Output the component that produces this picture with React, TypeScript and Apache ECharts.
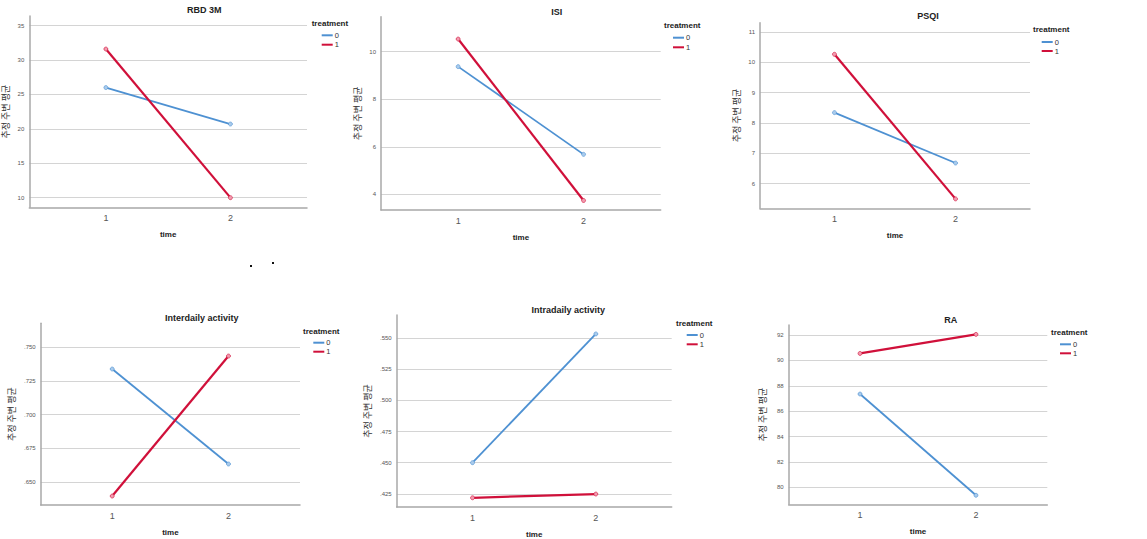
import React, { useEffect, useRef } from "react";
import * as echarts from "echarts";

// ---- Data ----
const timeCategories = [1, 2];
const panelTitles = ["RBD 3M", "ISI", "PSQI", "Interdaily activity", "Intradaily activity", "RA"];
const treatmentNames = ["0", "1"];

const rbd0 = [26.0, 20.7];
const rbd1 = [31.6, 10.0];
const isi0 = [9.37, 5.68];
const isi1 = [10.53, 3.74];
const psqi0 = [8.34, 6.68];
const psqi1 = [10.26, 5.5];
const inter0 = [0.7337, 0.6635];
const inter1 = [0.6398, 0.7433];
const intra0 = [0.45, 0.5534];
const intra1 = [0.4218, 0.4248];
const ra0 = [87.35, 79.37];
const ra1 = [90.55, 92.05];

const rbdTicks = [10, 15, 20, 25, 30, 35];
const isiTicks = [4, 6, 8, 10];
const psqiTicks = [6, 7, 8, 9, 10, 11];
const interTicks = [0.65, 0.675, 0.7, 0.725, 0.75];
const intraTicks = [0.425, 0.45, 0.475, 0.5, 0.525, 0.55];
const raTicks = [80, 82, 84, 86, 88, 90, 92];

const yAxisName = "추정 주변 평균";
const xAxisName = "time";
const legendTitle = "treatment";

const BLUE = "#4E91D2";
const RED = "#D0103A";
const BLUE_M = "#A9CBEC";
const RED_M = "#F29AAE";

type Panel = {
  title: string;
  s0: number[];
  s1: number[];
  ticks: number[];
  fmt: (v: number) => string;
  grid: { left: number; top: number; width: number; height: number };
  yMin: number;
  yMax: number;
  titlePos: [number, number];
  yNameGap: number;
  legendX: number;
  legendTitlePos: [number, number];
  legendY: [number, number];
};

const intFmt = (v: number) => String(Math.round(v));
const decFmt = (v: number) => "." + Math.round(v * 1000).toString().padStart(3, "0");

const panels: Panel[] = [
  {
    title: panelTitles[0], s0: rbd0, s1: rbd1, ticks: rbdTicks, fmt: intFmt,
    grid: { left: 29.3, top: 16, width: 277.7, height: 191.3 }, yMin: 8.6, yMax: 36.4,
    titlePos: [204.3, 10], yNameGap: 19, legendX: 321.7, legendTitlePos: [311.7, 23.3], legendY: [35.3, 44.7],
  },
  {
    title: panelTitles[1], s0: isi0, s1: isi1, ticks: isiTicks, fmt: intFmt,
    grid: { left: 381, top: 16.7, width: 279.7, height: 193.3 }, yMin: 3.34, yMax: 11.47,
    titlePos: [556.7, 12.3], yNameGap: 19, legendX: 673, legendTitlePos: [664, 25], legendY: [37.7, 47.3],
  },
  {
    title: panelTitles[2], s0: psqi0, s1: psqi1, ticks: psqiTicks, fmt: intFmt,
    grid: { left: 760, top: 22.7, width: 270, height: 185.6 }, yMin: 5.19, yMax: 11.3,
    titlePos: [928, 16], yNameGap: 19, legendX: 1041.7, legendTitlePos: [1033, 29.3], legendY: [42, 51],
  },
  {
    title: panelTitles[3], s0: inter0, s1: inter1, ticks: interTicks, fmt: decFmt,
    grid: { left: 40.7, top: 323.3, width: 259.3, height: 181.7 }, yMin: 0.6332, yMax: 0.7675,
    titlePos: [201.7, 318.3], yNameGap: 25, legendX: 313.3, legendTitlePos: [303, 331], legendY: [342.7, 351.7],
  },
  {
    title: panelTitles[4], s0: intra0, s1: intra1, ticks: intraTicks, fmt: decFmt,
    grid: { left: 396.7, top: 315, width: 275, height: 193.3 }, yMin: 0.4144, yMax: 0.5686,
    titlePos: [568.3, 310], yNameGap: 25, legendX: 686.7, legendTitlePos: [676, 323.3], legendY: [335, 344.3],
  },
  {
    title: panelTitles[5], s0: ra0, s1: ra1, ticks: raTicks, fmt: intFmt,
    grid: { left: 788.7, top: 325, width: 258.6, height: 179.3 }, yMin: 78.66, yMax: 92.79,
    titlePos: [950.7, 320], yNameGap: 22, legendX: 1060, legendTitlePos: [1051, 332.7], legendY: [344.3, 353.3],
  },
];

const FONT = "Liberation Sans, Arial, sans-serif";

function buildOption() {
  const grid: any[] = [];
  const xAxis: any[] = [];
  const yAxis: any[] = [];
  const series: any[] = [];
  const graphic: any[] = [];

  panels.forEach((p, i) => {
    grid.push({ ...p.grid, containLabel: false });
    xAxis.push({
      type: "value",
      gridIndex: i,
      min: 0.385,
      max: 2.615,
      name: xAxisName,
      nameLocation: "middle",
      nameGap: 23,
      nameTextStyle: { fontFamily: FONT, fontSize: 8, fontWeight: "bold", color: "#222" },
      axisLine: { show: true, lineStyle: { color: "#A8A8A8", width: 1.5 } },
      axisTick: { show: false, customValues: timeCategories },
      axisLabel: {
        customValues: timeCategories,
        fontFamily: FONT,
        fontSize: 9,
        color: "#555",
        margin: 6,
        formatter: (v: number) => String(v),
      },
      splitLine: { show: false },
    });
    yAxis.push({
      type: "value",
      gridIndex: i,
      min: p.yMin,
      max: p.yMax,
      name: yAxisName,
      nameLocation: "middle",
      nameGap: p.yNameGap,
      nameRotate: 90,
      nameTextStyle: { fontFamily: "Noto Sans CJK KR", fontSize: 9, color: "#333" },
      axisLine: { show: true, lineStyle: { color: "#A8A8A8", width: 1.5 } },
      axisTick: { show: false, customValues: p.ticks },
      axisLabel: {
        customValues: p.ticks,
        fontFamily: FONT,
        fontSize: 6,
        color: "#555",
        margin: 5,
        formatter: (v: number) => p.fmt(v),
      },
      splitLine: { show: true, lineStyle: { color: "#D4D4D4", width: 1 } },
    });
    const mk = (vals: number[], name: string, color: string, mcolor: string, width: number) => ({
      type: "line",
      name,
      xAxisIndex: i,
      yAxisIndex: i,
      data: timeCategories.map((t, k) => [t, vals[k]]),
      lineStyle: { color, width },
      itemStyle: { color: mcolor, borderColor: color, borderWidth: 0.6 },
      symbol: "circle",
      symbolSize: 4,
      showSymbol: true,
      z: name === "1" ? 3 : 2,
    });
    series.push(mk(p.s0, treatmentNames[0], BLUE, BLUE_M, 1.8));
    series.push(mk(p.s1, treatmentNames[1], RED, RED_M, 2.2));

    graphic.push({
      type: "text",
      x: p.titlePos[0],
      y: p.titlePos[1],
      style: {
        text: p.title,
        fontFamily: FONT,
        fontSize: 9,
        fontWeight: "bold",
        fill: "#222",
        align: "center",
        verticalAlign: "middle",
      },
    });
    graphic.push({
      type: "text",
      x: p.legendTitlePos[0],
      y: p.legendTitlePos[1],
      style: {
        text: legendTitle,
        fontFamily: FONT,
        fontSize: 8,
        fontWeight: "bold",
        fill: "#222",
        align: "left",
        verticalAlign: "middle",
      },
    });
    [0, 1].forEach((k) => {
      const y = p.legendY[k];
      graphic.push({
        type: "line",
        shape: { x1: p.legendX, y1: y, x2: p.legendX + 11, y2: y },
        style: { stroke: k === 0 ? BLUE : RED, lineWidth: 2 },
      });
      graphic.push({
        type: "text",
        x: p.legendX + 13,
        y,
        style: {
          text: treatmentNames[k],
          fontFamily: FONT,
          fontSize: 7.5,
          fill: "#333",
          align: "left",
          verticalAlign: "middle",
        },
      });
    });
  });

  // stray dots in the source image
  graphic.push({ type: "rect", shape: { x: 250, y: 265, width: 2, height: 2 }, style: { fill: "#111" } });
  graphic.push({ type: "rect", shape: { x: 272, y: 262, width: 2, height: 2 }, style: { fill: "#111" } });

  return {
    animation: false,
    backgroundColor: "#FFFFFF",
    grid,
    xAxis,
    yAxis,
    series,
    graphic,
  };
}

export default function App() {
  const ref = useRef<HTMLDivElement>(null);
  useEffect(() => {
    if (!ref.current) return;
    const chart = echarts.init(ref.current, null, { renderer: "svg" });
    chart.setOption(buildOption() as any);
    return () => chart.dispose();
  }, []);
  return (
    <div
      ref={ref}
      style={{ position: "fixed", left: 0, top: 0, width: 1147, height: 539, background: "#fff" }}
    />
  );
}
